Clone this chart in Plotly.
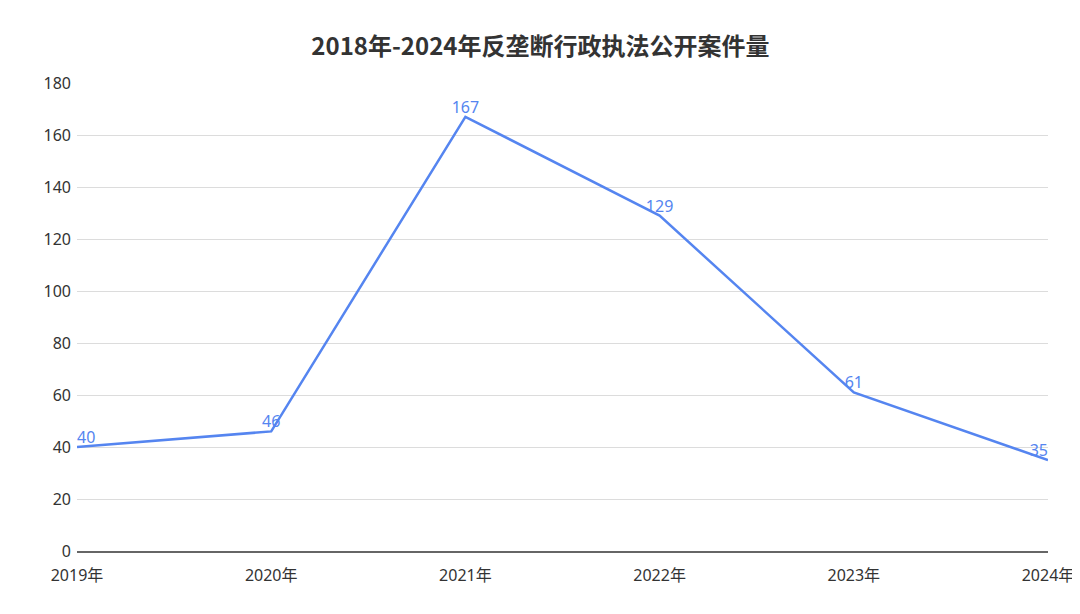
import plotly.graph_objects as go

years = ['2019年', '2020年', '2021年', '2022年', '2023年', '2024年']
cases = [40, 46, 167, 129, 61, 35]
label_pos = ['top right', 'top center', 'top center', 'top center', 'top center', 'top left']

font = 'Noto Sans, Noto Sans CJK SC'
blue = '#5585f0'

fig = go.Figure(go.Scatter(
    x=years, y=cases, mode='lines+text',
    text=[str(v) for v in cases], textposition=label_pos,
    textfont=dict(color=blue, size=16, family=font),
    line=dict(color=blue, width=2.5),
    cliponaxis=False, hoverinfo='x+y',
))

fig.update_layout(
    width=1080, height=614,
    paper_bgcolor='white', plot_bgcolor='white',
    margin=dict(l=69, r=40, t=75, b=71),
    font=dict(family=font, color='#333333', size=16),
    title=dict(text='<b>2018年-2024年反垄断行政执法公开案件量</b>',
               x=0.493, xanchor='center', y=0.937, yanchor='middle',
               font=dict(size=24, color='#333333', family='Noto Sans CJK SC')),
    showlegend=False,
)
fig.update_xaxes(
    type='category', range=[0, 5], showgrid=False, automargin=False,
    showline=True, linecolor='#666666', linewidth=1.5,
    ticks='', tickfont=dict(size=16, color='#333333'),
    ticklabelstandoff=9,
)
fig.update_yaxes(
    range=[0, 180], dtick=20, showgrid=True, gridcolor='#dcdcdc', gridwidth=1,
    zeroline=False, ticks='', automargin=False,
    tickfont=dict(size=16, color='#333333'),
    ticklabelstandoff=5,
)

fig.write_html('out.html')
